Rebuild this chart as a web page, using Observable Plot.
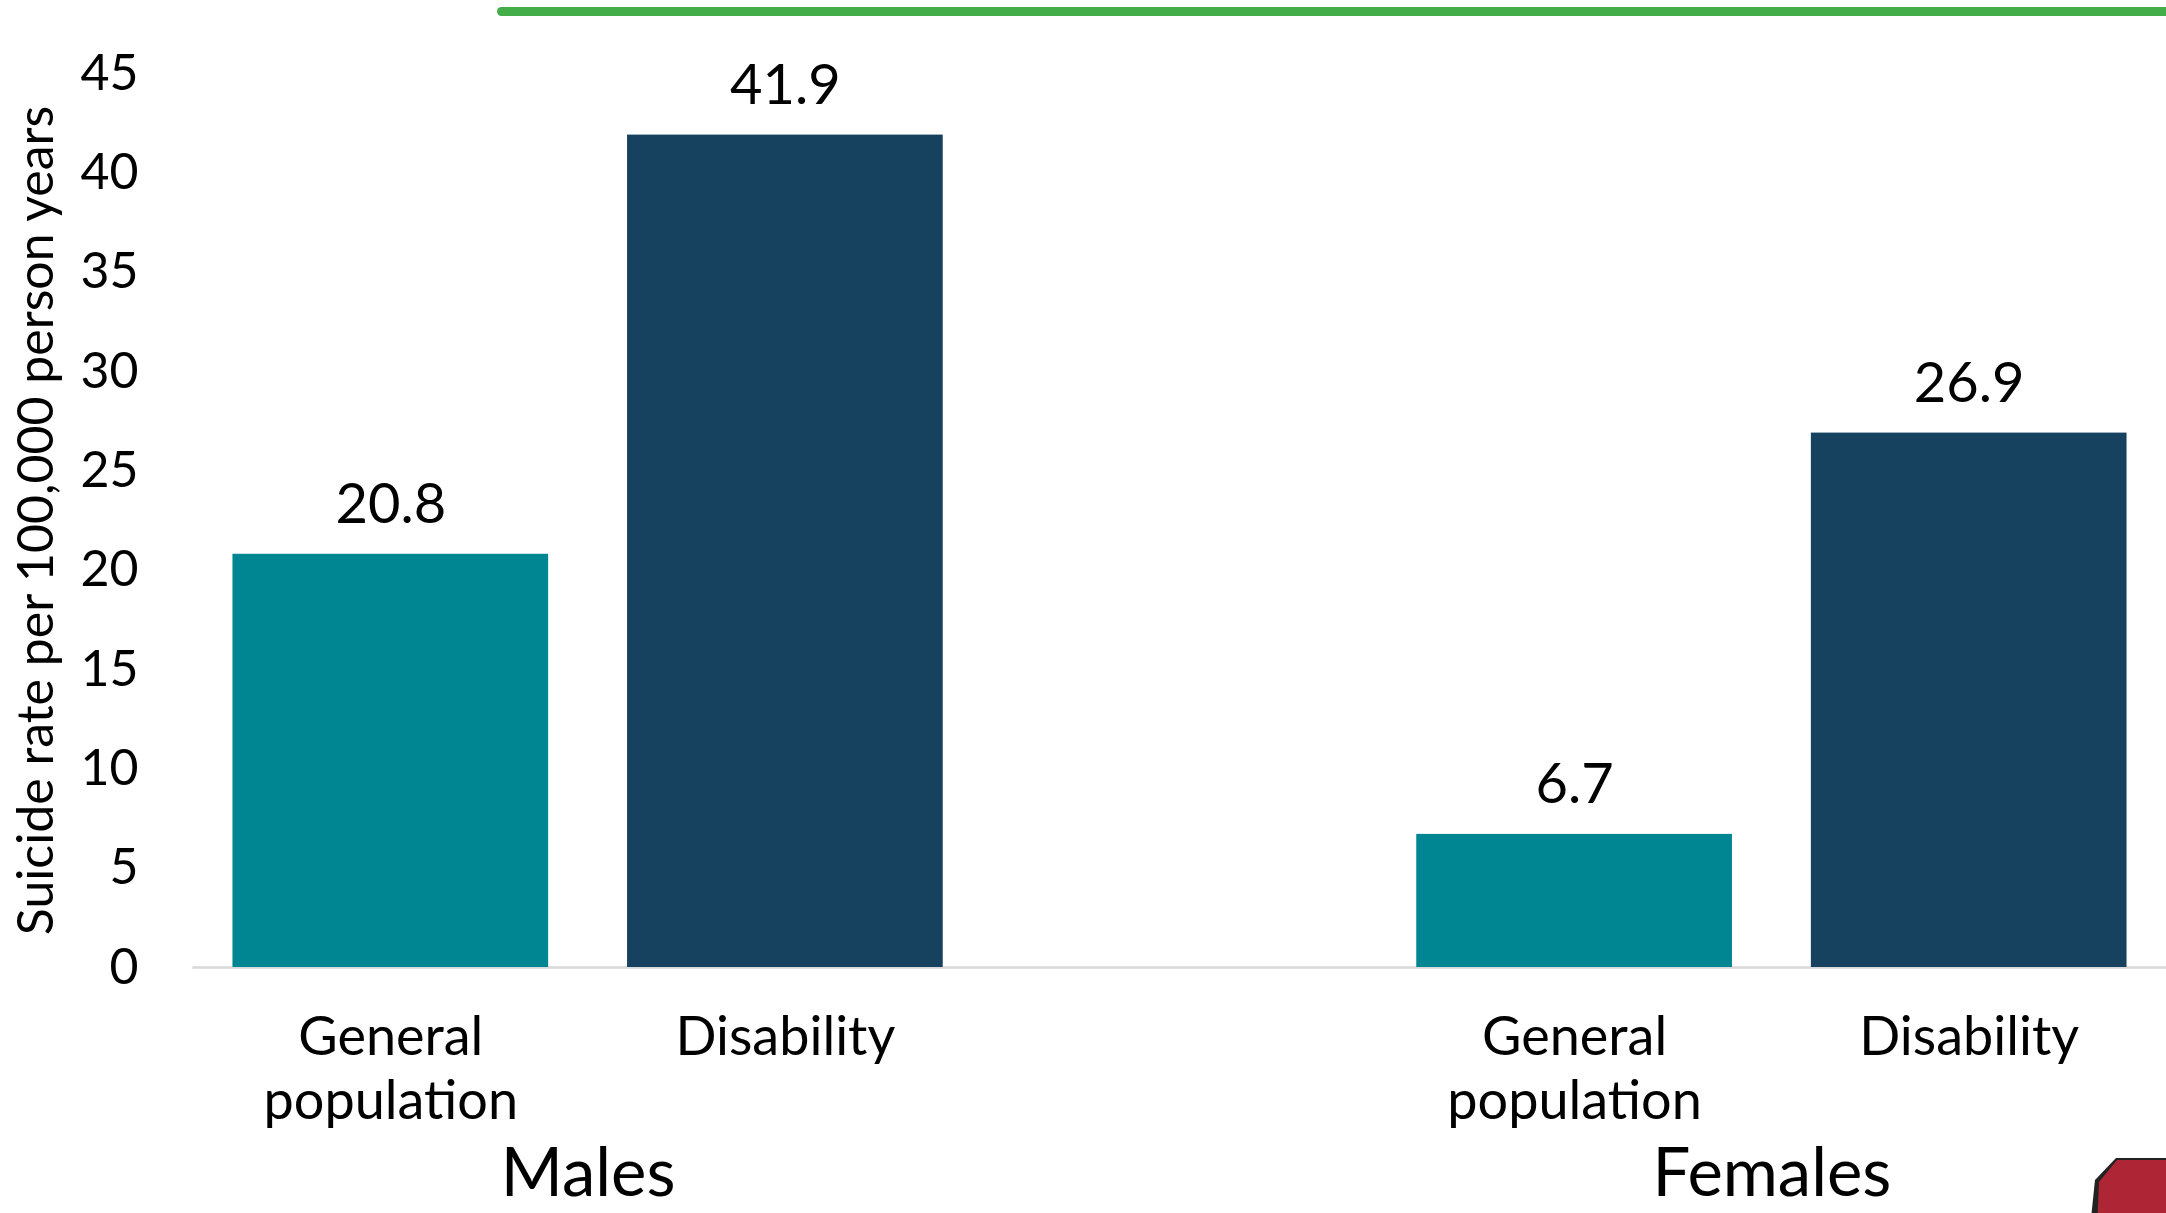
<!DOCTYPE html>
<html><head><meta charset="utf-8">
<script src="https://cdn.jsdelivr.net/npm/d3@7"></script>
<script src="https://cdn.jsdelivr.net/npm/@observablehq/plot@0.6"></script>
<style>
html,body{margin:0;padding:0;background:#fff;}
#wrap{position:relative;width:2166px;height:1213px;overflow:hidden;}
#chart svg{display:block;}
#green{position:absolute;left:497px;top:7px;width:1690px;height:9px;background:#43ad4a;border-radius:5px;}
#logo{position:absolute;left:2090px;top:1158px;width:90px;height:70px;background:#222;clip-path:polygon(26px 0,100% 0,100% 100%,0 100%,5px 22px);}
#logo div{position:absolute;left:3px;top:2px;width:90px;height:70px;background:#ae2535;clip-path:polygon(24px 0,100% 0,100% 100%,4px 100%,6px 22px);}
</style></head><body>
<div id="wrap"><div id="chart"></div><div id="green"></div><div id="logo"><div></div></div></div>
<script>
const groups = ["Males", "Males", "Females", "Females"];
const categories = ["General population", "Disability", "General population", "Disability"];
const rates = [20.8, 41.9, 6.7, 26.9];
const groupOrder = ["Males", "Females"];
const categoryOrder = ["General population", "Disability"];
const yTicks = [0, 5, 10, 15, 20, 25, 30, 35, 40, 45];
const colors = ["#008592", "#17425f"];
const yLabel = "Suicide rate per 100,000 person years";

const data = rates.map((v, i) => ({group: groups[i], category: categories[i], rate: v}));
const font = "Lato, 'Noto Sans', sans-serif";

const chart = Plot.plot({
  width: 2166, height: 1213,
  marginTop: 73, marginBottom: 246, marginLeft: 193, marginRight: 0,
  style: {fontFamily: font, color: "#000", background: "#fff"},
  fx: {domain: groupOrder, paddingInner: 1/3, paddingOuter: 0, label: null, round: false},
  x: {domain: categoryOrder, paddingInner: 0.2, paddingOuter: 0.1, label: null, round: false},
  y: {domain: [0, 45], label: null},
  color: {domain: categoryOrder, range: colors},
  marks: [
    Plot.axisY({ticks: yTicks, tickSize: 0, tickPadding: 55, fontSize: 50, label: yLabel, labelAnchor: "center", labelOffset: 176, labelArrow: "none"}),
    Plot.axisX({tickSize: 0, tickPadding: 41, fontSize: 54, lineHeight: 1.2, tickFormat: d => d.replace(" ", "\n"), label: null}),
    Plot.axisFx({anchor: "bottom", tickSize: 0, tickPadding: 181, fontSize: 67, label: null}),
    Plot.frame({facet: "super", anchor: "bottom", stroke: "#d9d9d9", strokeWidth: 2.5}),
    Plot.barY(data, {fx: "group", x: "category", y: "rate", fill: "category"}),
    Plot.text(data, {fx: "group", x: "category", y: "rate", text: d => d.rate.toFixed(1), lineAnchor: "bottom", dy: -31, fontSize: 56, fill: "#000"})
  ]
});
document.getElementById("chart").appendChild(chart);
</script>
</body></html>
